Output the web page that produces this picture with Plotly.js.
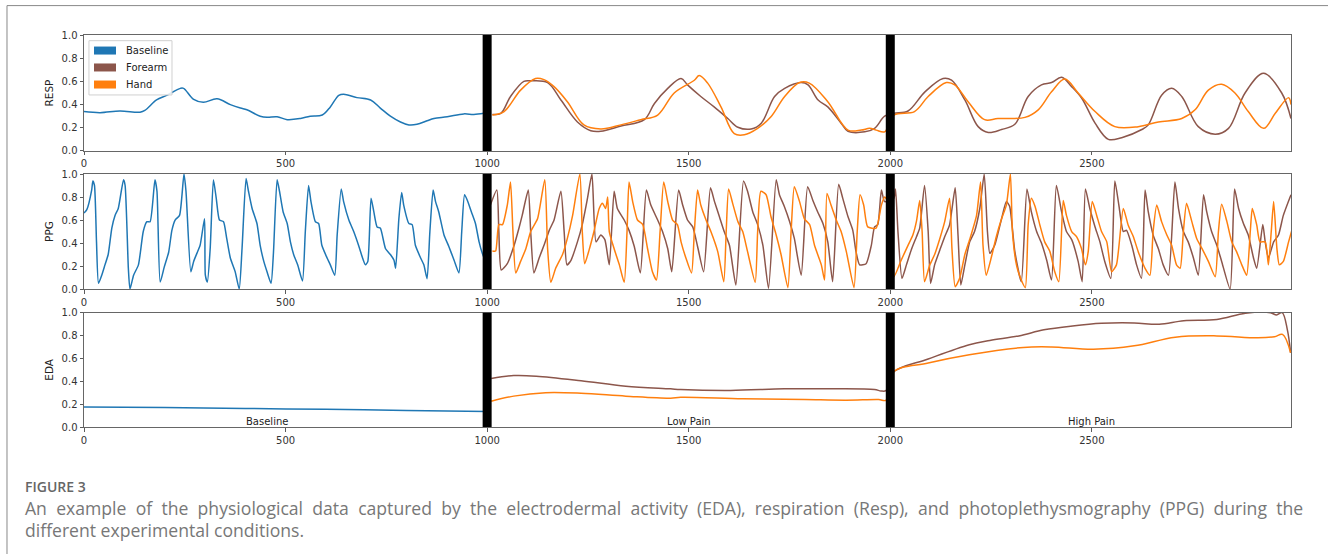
<!DOCTYPE html>
<html>
<head>
<meta charset="utf-8">
<script src="https://cdn.plot.ly/plotly-3.0.1.min.js"></script>
<style>
  html, body { margin: 0; padding: 0; background: #fff; }
  #chart { width: 1328px; height: 554px; }
</style>
</head>
<body>
<div id="chart"></div>
<script>
// ---------------- DATA ----------------
const tickVals = [0, 500, 1000, 1500, 2000, 2500];
const tickText = ['0', '500', '1000', '1500', '2000', '2500'];
const seriesNames = ['Baseline', 'Forearm', 'Hand'];
const conditionNames = ['Baseline', 'Low Pain', 'High Pain'];
const conditionX = [455, 1500, 2500];
const boundaries = [1000, 2000];

// RESP
const respBaseX = [0,40,89,139,151,180,205,239,247,272,296,330,363,388,404,437,454,479,504,537,561,591,611,632,644,677,711,735,760,785,806,826,851,868,901,942,967,992];
const respBaseY = [0.34,0.33,0.345,0.335,0.35,0.44,0.48,0.54,0.54,0.445,0.42,0.45,0.40,0.37,0.355,0.30,0.29,0.295,0.27,0.28,0.30,0.31,0.38,0.48,0.49,0.46,0.44,0.37,0.30,0.25,0.225,0.23,0.26,0.28,0.295,0.32,0.315,0.325];
const respForeX = [1013,1034,1058,1091,1108,1150,1183,1224,1257,1282,1332,1390,1415,1448,1481,1497,1530,1563,1597,1622,1655,1680,1713,1738,1779,1796,1821,1845,1878,1895,1937,1961,1986,
  2009,2044,2086,2131,2152,2185,2218,2243,2276,2309,2342,2375,2400,2425,2450,2475,2508,2541,2574,2624,2640,2673,2698,2723,2764,2806,2839,2880,2926,2971,2994];
const respForeY = [0.315,0.325,0.47,0.60,0.605,0.59,0.44,0.25,0.175,0.17,0.215,0.27,0.41,0.54,0.625,0.57,0.47,0.38,0.28,0.205,0.19,0.24,0.47,0.54,0.59,0.57,0.44,0.38,0.24,0.17,0.165,0.195,0.30,
  0.325,0.345,0.51,0.625,0.61,0.44,0.21,0.16,0.185,0.23,0.47,0.57,0.59,0.635,0.555,0.455,0.24,0.10,0.115,0.185,0.225,0.48,0.54,0.47,0.21,0.145,0.195,0.50,0.67,0.50,0.28];
const respHandX = [1013,1042,1083,1120,1141,1166,1199,1240,1282,1332,1381,1423,1464,1514,1526,1547,1580,1613,1638,1671,1704,1738,1775,1799,1845,1895,1928,1949,1965,1986,
  2009,2060,2094,2139,2160,2193,2234,2267,2334,2367,2400,2433,2466,2508,2557,2615,2665,2723,2756,2789,2822,2855,2888,2926,2955,2988,2994];
const respHandY = [0.31,0.34,0.525,0.625,0.615,0.555,0.425,0.225,0.19,0.225,0.27,0.31,0.50,0.61,0.65,0.585,0.38,0.15,0.14,0.195,0.295,0.47,0.59,0.585,0.425,0.18,0.18,0.195,0.18,0.165,
  0.31,0.34,0.47,0.59,0.57,0.425,0.27,0.28,0.29,0.355,0.51,0.62,0.50,0.34,0.21,0.21,0.25,0.28,0.355,0.525,0.575,0.50,0.34,0.195,0.325,0.46,0.40];

// PPG
const ppgBaseX = [0,7,19,22,26,31,36,44,52,60,69,77,85,98,102,110,114,123,135,147,156,164,176,181,189,199,210,218,226,237,248,253,265,272,280,288,299,301,306,313,321,328,336,346,354,363,375,385,392,402,408,417,429,437,446,454,464,470,479,485,494,504,512,520,530,542,549,557,563,574,582,590,603,611,622,628,638,644,657,669,682,690,698,704,712,719,727,735,748,760,769,773,781,788,793,806,814,822,835,843,851,858,866,872,880,893,905,918,930,937,944,951,961,971,980,988,1000];
const ppgBaseY = [0.66,0.69,0.86,0.94,0.90,0.41,0.05,0.12,0.21,0.30,0.53,0.64,0.70,0.95,0.90,0.18,0.0,0.12,0.21,0.50,0.585,0.585,0.95,0.85,0.06,0.19,0.32,0.51,0.60,0.64,1.0,0.85,0.15,0.24,0.31,0.38,0.61,0.12,0.06,0.35,0.95,0.79,0.60,0.585,0.44,0.27,0.15,0.0,0.35,0.96,0.85,0.70,0.57,0.38,0.24,0.15,0.05,0.32,0.95,0.85,0.67,0.57,0.41,0.30,0.21,0.07,0.50,0.90,0.76,0.585,0.57,0.38,0.27,0.21,0.12,0.47,0.87,0.76,0.60,0.50,0.37,0.28,0.21,0.24,0.79,0.67,0.54,0.53,0.35,0.30,0.25,0.18,0.61,0.84,0.73,0.57,0.56,0.38,0.27,0.21,0.09,0.50,0.86,0.76,0.67,0.47,0.37,0.25,0.14,0.50,0.82,0.77,0.67,0.57,0.41,0.31,0.21];
const ppgForeX = [1005,1024,1029,1035,1050,1067,1079,1087,1102,1108,1116,1129,1141,1154,1166,1183,1191,1198,1208,1224,1236,1249,1260,1270,1282,1292,1303,1315,1323,1340,1352,1365,1380,1395,1406,1423,1435,1448,1458,1475,1485,1497,1510,1522,1537,1554,1564,1576,1588,1601,1617,1636,1646,1659,1671,1684,1698,1717,1725,1737,1750,1762,1779,1795,1808,1820,1833,1845,1857,1872,1882,1895,1907,1915,1924,1940,1953,1961,1969,1978,1986,
  2009,2013,2019,2029,2040,2052,2065,2073,2085,2094,2100,2110,2123,2135,2147,2161,2168,2175,2185,2197,2209,2222,2233,2241,2247,2259,2276,2288,2296,2309,2325,2339,2350,2363,2375,2388,2400,2412,2425,2437,2450,2466,2476,2484,2495,2508,2520,2532,2547,2557,2567,2578,2586,2599,2611,2623,2632,2640,2652,2665,2677,2690,2706,2715,2727,2739,2752,2764,2777,2785,2797,2810,2822,2843,2854,2864,2876,2888,2901,2909,2924,2930,2938,2951,2963,2975,2994];
const ppgForeY = [0.70,0.86,0.50,0.165,0.22,0.38,0.53,0.64,0.86,0.50,0.14,0.27,0.38,0.51,0.60,0.85,0.50,0.21,0.25,0.41,0.56,0.79,1.0,0.41,0.47,0.43,0.21,0.85,0.70,0.60,0.51,0.37,0.14,0.86,0.73,0.60,0.50,0.35,0.15,0.86,0.73,0.60,0.54,0.37,0.15,0.88,0.76,0.63,0.50,0.38,0.035,0.94,0.85,0.67,0.56,0.38,0.006,0.95,0.82,0.72,0.59,0.44,0.12,0.89,0.77,0.67,0.57,0.41,0.064,0.91,0.79,0.63,0.51,0.325,0.21,0.22,0.38,0.54,0.56,0.86,0.76,
  0.79,0.87,0.50,0.093,0.21,0.34,0.455,0.53,0.90,0.50,0.049,0.21,0.34,0.455,0.557,0.88,0.47,0.035,0.21,0.41,0.50,0.70,1.0,0.50,0.31,0.38,0.61,0.76,0.72,0.325,0.064,0.87,0.67,0.50,0.40,0.25,0.078,0.90,0.67,0.50,0.43,0.24,0.064,0.87,0.70,0.54,0.41,0.24,0.093,0.94,0.73,0.50,0.51,0.38,0.21,0.093,0.86,0.67,0.47,0.35,0.21,0.12,0.93,0.70,0.50,0.41,0.27,0.12,0.82,0.67,0.50,0.38,0.24,0.0,0.87,0.70,0.57,0.47,0.27,0.18,0.56,0.41,0.27,0.41,0.47,0.64,0.82];
const ppgHandX = [1013,1021,1029,1038,1050,1058,1064,1071,1083,1096,1108,1125,1143,1150,1158,1170,1187,1199,1212,1230,1236,1242,1253,1265,1278,1286,1294,1299,1303,1315,1328,1340,1347,1352,1361,1373,1386,1398,1410,1420,1429,1438,1448,1460,1472,1481,1493,1507,1514,1522,1530,1543,1555,1572,1587,1593,1599,1609,1622,1634,1646,1665,1671,1679,1692,1704,1717,1729,1746,1754,1762,1775,1787,1800,1812,1829,1837,1843,1853,1866,1878,1891,1910,1918,1925,1934,1944,1965,1978,1986,
  1994,2009,2027,2044,2056,2065,2073,2079,2085,2098,2110,2123,2135,2147,2153,2161,2172,2185,2197,2214,2224,2230,2238,2251,2263,2276,2288,2298,2303,2313,2325,2335,2342,2350,2359,2371,2383,2396,2408,2418,2429,2437,2450,2462,2474,2484,2491,2501,2512,2524,2537,2549,2561,2578,2590,2603,2615,2632,2644,2652,2661,2673,2686,2698,2710,2719,2727,2735,2748,2760,2773,2789,2806,2814,2822,2835,2847,2859,2872,2884,2893,2898,2909,2917,2930,2938,2945,2951,2959,2965,2975,2988,2996];
const ppgHandY = [0.33,0.33,0.56,0.56,0.73,0.93,0.50,0.14,0.24,0.35,0.50,0.61,0.95,0.35,0.058,0.18,0.30,0.44,0.64,1.0,0.50,0.22,0.34,0.50,0.70,0.745,0.70,0.80,0.50,0.35,0.21,0.058,0.50,0.93,0.76,0.60,0.56,0.35,0.15,0.078,0.50,0.93,0.76,0.60,0.56,0.41,0.27,0.14,0.50,0.86,0.73,0.60,0.50,0.325,0.064,0.50,0.87,0.745,0.586,0.50,0.325,0.058,0.50,0.85,0.82,0.63,0.47,0.30,0.012,0.50,0.89,0.76,0.61,0.56,0.38,0.21,0.078,0.83,0.73,0.60,0.50,0.325,0.012,0.50,0.82,0.73,0.54,0.53,0.73,0.80,
  0.76,0.107,0.25,0.38,0.47,0.59,0.77,0.50,0.064,0.21,0.30,0.44,0.586,0.79,0.35,0.02,0.093,0.30,0.43,0.64,0.93,0.38,0.12,0.28,0.455,0.61,0.73,1.0,0.50,0.21,0.078,0.012,0.557,0.79,0.72,0.557,0.41,0.325,0.15,0.064,0.77,0.64,0.50,0.455,0.354,0.21,0.325,0.76,0.64,0.50,0.41,0.15,0.21,0.70,0.557,0.455,0.325,0.18,0.12,0.50,0.73,0.586,0.47,0.38,0.21,0.18,0.50,0.745,0.586,0.44,0.354,0.24,0.107,0.50,0.736,0.586,0.41,0.325,0.21,0.12,0.50,0.70,0.557,0.41,0.41,0.21,0.50,0.76,0.354,0.21,0.24,0.41,0.51];

// EDA
const edaBaseX = [0,200,400,600,800,1000];
const edaBaseY = [0.175,0.17,0.162,0.155,0.145,0.135];
const edaForeX = [1010,1066,1122,1233,1344,1455,1480,1604,1737,1838,1961,1977,1990,2007,2094,2196,2247,2319,2381,2452,2524,2605,2667,2728,2810,2881,2943,2958,2972,2985,2993];
const edaForeY = [0.425,0.45,0.445,0.405,0.357,0.334,0.328,0.32,0.334,0.334,0.328,0.315,0.32,0.478,0.595,0.72,0.757,0.797,0.85,0.884,0.907,0.91,0.899,0.93,0.94,0.995,1.0,0.98,1.0,0.85,0.65];
const edaHandX = [1010,1066,1145,1233,1344,1455,1480,1634,1788,1890,1971,1990,2007,2094,2196,2330,2400,2504,2605,2707,2810,2912,2953,2973,2993];
const edaHandY = [0.226,0.27,0.30,0.295,0.27,0.252,0.26,0.247,0.24,0.235,0.24,0.235,0.478,0.56,0.632,0.696,0.70,0.68,0.71,0.786,0.797,0.78,0.79,0.81,0.65];

const figureLabel = 'FIGURE 3';
const caption1 = 'An example of the physiological data captured by the electrodermal activity (EDA), respiration (Resp), and photoplethysmography (PPG) during the';
const caption2 = 'different experimental conditions.';

// ---------------- STYLE ----------------
const C_BASE = '#1f77b4', C_FORE = '#8c564b', C_HAND = '#ff7f0e';
const colors = [C_BASE, C_FORE, C_HAND];
const tickFont = {family: 'DejaVu Sans, sans-serif', size: 10, color: '#333'};

function tr(x, y, color, xa, ya, smooth) {
  return {x: x, y: y, type: 'scatter', mode: 'lines', xaxis: xa, yaxis: ya,
    line: {color: color, width: 1.5, shape: 'spline', smoothing: smooth},
    showlegend: false, hoverinfo: 'skip'};
}

const data = [
  tr(respBaseX, respBaseY, C_BASE, 'x', 'y', 1),
  tr(respForeX, respForeY, C_FORE, 'x', 'y', 1),
  tr(respHandX, respHandY, C_HAND, 'x', 'y', 1),
  tr(ppgBaseX, ppgBaseY, C_BASE, 'x2', 'y2', 0.55),
  tr(ppgForeX, ppgForeY, C_FORE, 'x2', 'y2', 0.55),
  tr(ppgHandX, ppgHandY, C_HAND, 'x2', 'y2', 0.55),
  tr(edaBaseX, edaBaseY, C_BASE, 'x3', 'y3', 1),
  tr(edaForeX, edaForeY, C_FORE, 'x3', 'y3', 1),
  tr(edaHandX, edaHandY, C_HAND, 'x3', 'y3', 1)
];

function xax(anchor) {
  return {anchor: anchor, range: [0, 2994], tickvals: tickVals, ticktext: tickText,
    ticks: 'outside', ticklen: 3.5, tickwidth: 0.8, tickcolor: '#333', tickfont: tickFont,
    showline: true, linecolor: '#666', linewidth: 1, mirror: true, showgrid: false, zeroline: false,
    fixedrange: true};
}
function yax(anchor, dom, title) {
  return {anchor: anchor, domain: dom, range: [0, 1], tickvals: [0, 0.2, 0.4, 0.6, 0.8, 1.0],
    tickformat: '.1f', ticks: 'outside', ticklen: 3.5, tickwidth: 0.8, tickcolor: '#333',
    tickfont: tickFont, showline: true, linecolor: '#666', linewidth: 1, mirror: true,
    showgrid: false, zeroline: false, fixedrange: true,
    title: {text: title, font: {family: 'DejaVu Sans, sans-serif', size: 10.5, color: '#222'}, standoff: 5}};
}

const shapes = [];
const axPairs = [['x', 'y'], ['x2', 'y2'], ['x3', 'y3']];
axPairs.forEach(p => {
  boundaries.forEach(b => {
    shapes.push({type: 'line', xref: p[0], yref: p[1] + ' domain', x0: b, x1: b, y0: 0, y1: 1,
      line: {color: '#000', width: 9}, layer: 'above'});
  });
});
// legend box + patches (panel 1)
shapes.push({type: 'rect', xref: 'x domain', yref: 'y domain', x0: 0.0041, x1: 0.0729, y0: 0.483, y1: 0.951,
  line: {color: '#d0d0d0', width: 1}, fillcolor: 'rgba(255,255,255,0.85)', layer: 'above'});
const legendYs = [0.866, 0.720, 0.573];
seriesNames.forEach((n, i) => {
  shapes.push({type: 'rect', xref: 'x domain', yref: 'y domain', x0: 0.0083, x1: 0.0265,
    y0: legendYs[i] - 0.0345, y1: legendYs[i] + 0.0345, line: {width: 0}, fillcolor: colors[i], layer: 'above'});
});
// outer frame lines
shapes.push({type: 'line', xref: 'paper', yref: 'paper', x0: -0.0638, x1: -0.0638, y0: 1.075, y1: -0.33,
  line: {color: '#888', width: 1}});
shapes.push({type: 'line', xref: 'paper', yref: 'paper', x0: -0.0638, x1: 1.04, y0: 1.075, y1: 1.075,
  line: {color: '#888', width: 1}});

const annotations = [];
seriesNames.forEach((n, i) => {
  annotations.push({text: n, xref: 'x domain', yref: 'y domain', x: 0.0331, y: legendYs[i],
    xanchor: 'left', yanchor: 'middle', showarrow: false,
    font: {family: 'DejaVu Sans, sans-serif', size: 10, color: '#222'}});
});
conditionNames.forEach((n, i) => {
  annotations.push({text: n, xref: 'x3', yref: 'y3', x: conditionX[i], y: 0, xanchor: 'center', yanchor: 'bottom',
    showarrow: false, yshift: -2, font: {family: 'DejaVu Sans, sans-serif', size: 10, color: '#222'}});
});
// caption: justified first line emulated with extra thin spacing between words
const justified1 = caption1.split(' ').join(' \u2009\u200A');
annotations.push({text: figureLabel, xref: 'paper', yref: 'paper', x: -0.0505, y: -0.1516, xanchor: 'left', yanchor: 'middle',
  showarrow: false, font: {family: 'Open Sans, sans-serif', size: 14, color: '#666', weight: 600}});
annotations.push({text: justified1, xref: 'paper', yref: 'paper', x: -0.0505, y: -0.206, xanchor: 'left', yanchor: 'middle',
  showarrow: false, font: {family: 'Open Sans, sans-serif', size: 17.6, color: '#777'}});
annotations.push({text: caption2, xref: 'paper', yref: 'paper', x: -0.0505, y: -0.262, xanchor: 'left', yanchor: 'middle',
  showarrow: false, font: {family: 'Open Sans, sans-serif', size: 17.6, color: '#777'}});

const layout = {
  width: 1328, height: 554,
  margin: {l: 84, r: 37, t: 35, b: 127, pad: 0},
  paper_bgcolor: '#fff', plot_bgcolor: '#fff',
  showlegend: false,
  xaxis: xax('y'), xaxis2: xax('y2'), xaxis3: xax('y3'),
  yaxis: yax('x', [0.7041, 1], 'RESP'),
  yaxis2: yax('x2', [0.352, 0.6454], 'PPG'),
  yaxis3: yax('x3', [0, 0.2916], 'EDA'),
  shapes: shapes, annotations: annotations
};

Plotly.newPlot('chart', data, layout, {displayModeBar: false, staticPlot: true});
</script>
</body>
</html>
